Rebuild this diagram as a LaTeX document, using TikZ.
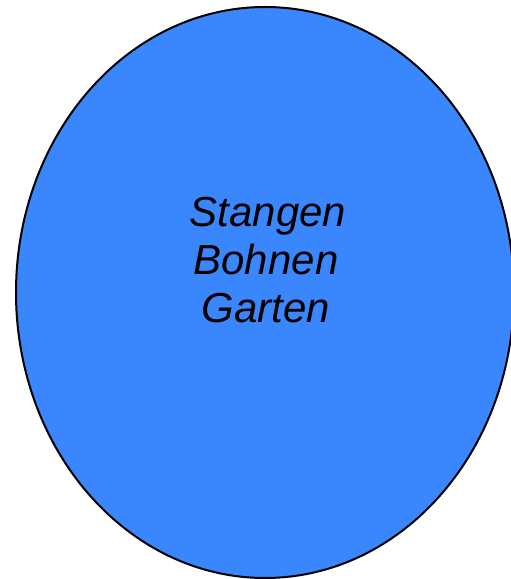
\documentclass[tikz,border=0pt]{standalone}
\usepackage{fontspec}
\setmainfont{Liberation Sans}
\definecolor{blobblue}{HTML}{3A87FD}
\begin{document}
\begin{tikzpicture}[x=1pt,y=1pt,
  lbl/.style={anchor=base,inner sep=0pt,font=\fontsize{42}{50}\selectfont\itshape,text=black}]
\useasboundingbox (0,0) rectangle (511,579);
\clip (0,0) rectangle (511,579);
\draw[fill=blobblue,line width=2pt] (265,286.5) ellipse [x radius=249, y radius=285.5];
\node[lbl] (l1) at (268,352) {Stangen};
\node[lbl] (l2) at (266,304) {Bohnen};
\node[lbl] (l3) at (266,256) {Garten};
\end{tikzpicture}
\end{document}
